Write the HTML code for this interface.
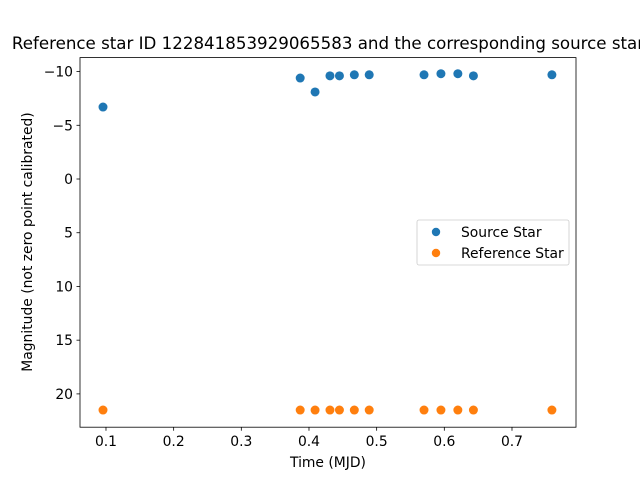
<!DOCTYPE html>
<html><head><meta charset="utf-8"><style>
body{margin:0;background:#fff}
svg{display:block;font-family:"DejaVu Sans","Liberation Sans",sans-serif}
</style></head><body>
<svg id="chart" width="640" height="480" xmlns="http://www.w3.org/2000/svg">
<rect width="640" height="480" fill="#fff"/>
<text x="328" y="49" font-size="16.67" text-anchor="middle">Reference star ID 122841853929065583 and the corresponding source star</text>
<g id="plot"></g>
<rect x="80" y="57.6" width="496" height="369.6" fill="none" stroke="#000" stroke-width="0.8"/>
<text x="328" y="467" font-size="13.89" text-anchor="middle">Time (MJD)</text>
<text transform="translate(32,242) rotate(-90)" font-size="13.89" text-anchor="middle">Magnitude (not zero point calibrated)</text>
<g>
<rect x="417" y="220" width="152" height="45" rx="2" fill="#fff" fill-opacity="0.8" stroke="#ccc" stroke-width="0.8"/>
<circle cx="436" cy="232" r="4.2" fill="#1f77b4"/>
<text x="461" y="237" font-size="13.89">Source Star</text>
<circle cx="436" cy="253" r="4.2" fill="#ff7f0e"/>
<text x="461" y="258" font-size="13.89">Reference Star</text>
</g>
</svg>
<script>
const srcTime=[0.0956,0.387,0.409,0.431,0.445,0.467,0.489,0.570,0.595,0.620,0.643,0.759];
const srcMag=[-6.7,-9.4,-8.1,-9.6,-9.6,-9.7,-9.7,-9.7,-9.8,-9.8,-9.6,-9.7];
const refTime=[0.0956,0.387,0.409,0.431,0.445,0.467,0.489,0.570,0.595,0.620,0.643,0.759];
const refMag=[21.5,21.5,21.5,21.5,21.5,21.5,21.5,21.5,21.5,21.5,21.5,21.5];
const xTicks=[0.1,0.2,0.3,0.4,0.5,0.6,0.7];
const yTicks=[-10,-5,0,5,10,15,20];
const yTickLabels=["\u221210","\u22125","0","5","10","15","20"];
const X0=80,X1=576,Y0=57.6,Y1=427.2,xmin=0.0616,xmax=0.7946,ymin=-11.3,ymax=23.1;
const xs=v=>X0+(v-xmin)/(xmax-xmin)*(X1-X0);
const ys=v=>Y0+(v-ymin)/(ymax-ymin)*(Y1-Y0);
const g=document.getElementById('plot');const NS='http://www.w3.org/2000/svg';
function mk(t,a){const e=document.createElementNS(NS,t);for(const k in a)e.setAttribute(k,a[k]);g.appendChild(e);return e;}
xTicks.forEach(v=>{const x=xs(v);
const l=mk('line',{x1:x,x2:x,y1:Y1,y2:Y1+3.5,stroke:'#000','stroke-width':0.8});


const t=mk('text',{x:x,y:Y1+19,'font-size':13.89,'text-anchor':'middle'});t.textContent=String(v);

});
yTicks.forEach((v,i)=>{const y=ys(v);
const l=mk('line',{x1:X0-3.5,x2:X0,y1:y,y2:y,stroke:'#000','stroke-width':0.8});


const t=mk('text',{x:X0-7,y:y+5,'font-size':13.89,'text-anchor':'end'});t.textContent=yTickLabels[i];

});
srcTime.forEach((v,i)=>{const c=mk('circle',{cx:xs(v),cy:ys(srcMag[i]),r:4.5,fill:'#1f77b4'});

});
refTime.forEach((v,i)=>{const c=mk('circle',{cx:xs(v),cy:ys(refMag[i]),r:4.5,fill:'#ff7f0e'});

});
</script>
</body></html>
